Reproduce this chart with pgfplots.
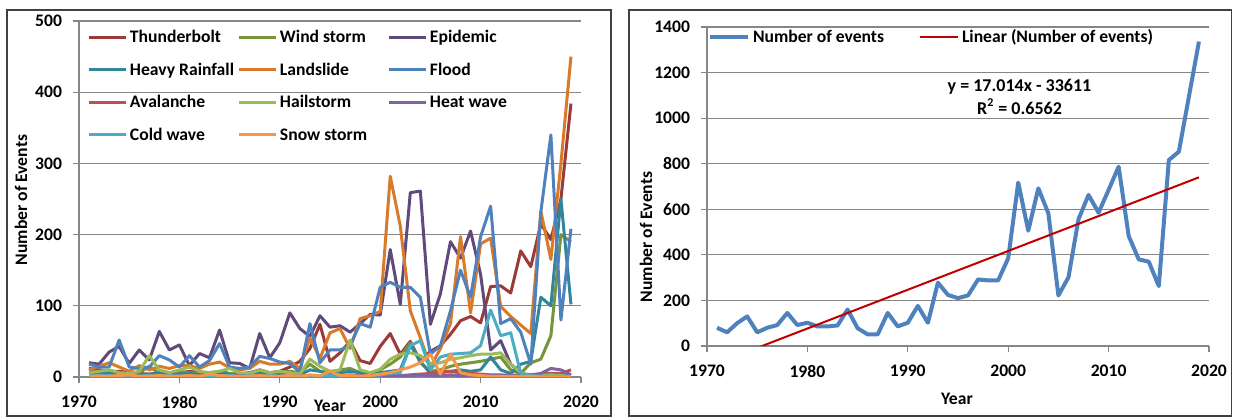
\documentclass[border=0pt]{standalone}
\usepackage{pgfplots}
\pgfplotsset{compat=1.18}
\usepackage{pgfplotstable}
\usepackage{fontspec}
\setmainfont{Carlito}
\definecolor{cThunder}{HTML}{9B3A37}
\definecolor{cWind}{HTML}{77933C}
\definecolor{cEpid}{HTML}{604A7B}
\definecolor{cHeavy}{HTML}{31859C}
\definecolor{cLand}{HTML}{D97A2B}
\definecolor{cFlood}{HTML}{4F81BD}
\definecolor{cAval}{HTML}{C0504D}
\definecolor{cHail}{HTML}{9BBB59}
\definecolor{cHeat}{HTML}{8064A2}
\definecolor{cCold}{HTML}{4BACC6}
\definecolor{cSnow}{HTML}{F79646}
\definecolor{cGrid}{HTML}{868686}
\definecolor{cFrame}{HTML}{404040}
\definecolor{cTrend}{HTML}{C00000}
\newcommand\ff{\bfseries\fontsize{8.8}{10}\selectfont}

\pgfplotstableread{
year thunder wind epid heavy land flood aval hail heat cold snow
1971 12 5 20 8 10 18 2 6 1 2 1
1972 10 6 18 6 15 14 1 8 1 1 1
1973 8 8 35 5 20 14 2 10 2 2 1
1974 8 5 43 6 14 52 1 6 1 1 2
1975 6 4 19 4 8 14 2 5 1 2 3
1976 5 6 38 3 16 12 1 8 2 1 1
1977 4 15 24 4 10 14 2 30 1 2 1
1978 6 5 64 5 15 30 1 10 1 1 2
1979 5 4 38 3 12 24 2 6 2 2 1
1980 5 8 45 4 16 14 1 10 1 1 1
1981 8 6 16 5 16 30 2 14 1 2 2
1982 6 5 33 3 12 14 1 8 1 1 1
1983 5 6 27 4 18 23 3 6 2 2 4
1984 6 8 66 8 21 47 2 8 1 1 2
1985 5 5 20 3 13 14 1 12 1 2 1
1986 4 4 19 2 10 12 2 6 1 1 1
1987 6 6 12 3 12 14 1 5 2 2 1
1988 10 8 61 5 22 29 2 10 1 1 2
1989 6 5 27 3 18 26 1 6 1 2 1
1990 8 6 48 4 18 21 2 8 2 1 1
1991 14 8 90 5 22 19 2 6 1 2 2
1992 22 6 68 3 12 7 1 4 1 1 1
1993 40 18 57 10 55 75 2 25 2 2 3
1994 74 8 86 8 26 20 2 15 1 1 2
1995 22 6 70 5 62 38 1 8 1 2 8
1996 34 10 72 6 68 38 2 10 2 1 2
1997 50 12 63 8 40 44 3 52 1 2 2
1998 23 6 75 6 82 75 2 10 2 1 1
1999 19 5 88 5 86 70 3 6 1 2 2
2000 43 10 87 6 92 126 2 11 2 3 4
2001 61 18 179 8 282 133 3 25 1 5 6
2002 32 28 102 10 212 126 2 32 2 6 10
2003 50 48 259 45 93 126 3 34 2 44 14
2004 22 20 261 22 55 112 4 30 3 51 20
2005 36 8 74 5 14 32 5 18 2 10 32
2006 44 10 117 6 40 44 8 20 2 28 4
2007 60 15 190 8 75 93 8 25 3 32 32
2008 79 18 167 10 197 150 6 27 2 33 6
2009 85 20 205 8 90 112 5 30 2 34 3
2010 76 22 144 10 187 197 4 32 2 44 2
2011 127 25 38 28 195 240 3 32 2 94 1
2012 128 28 51 10 99 75 3 34 2 58 1
2013 118 10 18 5 85 82 2 18 3 62 1
2014 177 5 5 18 73 63 2 6 2 5 1
2015 155 20 3 22 61 18 3 2 3 2 1
2016 215 25 3 112 233 232 4 2 5 1 0
2017 193 58 5 100 165 340 5 3 12 1 0
2018 250 200 4 250 300 80 5 2 10 1 0
2019 384 190 2 102 450 208 10 1 3 1 0
}\hazards

\pgfplotstableread{
year total
1971 80
1972 60
1973 100
1974 130
1975 60
1976 80
1977 92
1978 145
1979 92
1980 102
1981 86
1982 86
1983 90
1984 160
1985 78
1986 51
1987 51
1988 145
1989 86
1990 102
1991 176
1992 102
1993 278
1994 224
1995 210
1996 222
1997 292
1998 288
1999 288
2000 385
2001 717
2002 506
2003 692
2004 582
2005 222
2006 301
2007 556
2008 663
2009 585
2010 685
2011 787
2012 483
2013 380
2014 370
2015 263
2016 816
2017 853
2018 1095
2019 1336
}\totals

\pgfplotsset{
  chartbase/.style={
    scale only axis,
    anchor=south west,
    xmin=1970, xmax=2020, ymin=0,
    xtick={1970,1980,1990,2000,2010,2020},
    xticklabels={1970,1980,1990,2000,2010,2020},
    axis x line*=bottom, axis y line*=left,
    ymajorgrids,
    grid style={cGrid, line width=0.6pt},
    axis line style={cGrid, line width=0.6pt},
    tick style={cGrid, line width=0.6pt},
    tick align=outside, major tick length=3pt,
    tick label style={font=\ff, black},
    xticklabel style={yshift=-3pt},
    yticklabel style={xshift=-2pt},
    label style={font=\ff},
    xlabel={Year},
    legend style={draw=none, fill=none, inner sep=0pt, outer sep=0pt,
      font=\ff, column sep=0pt, row sep=10.6pt,
      nodes={inner sep=0pt, text height=5.7pt, text depth=0pt}},
    legend cell align=left,
    line join=round,
  },
}

\begin{document}
\begin{tikzpicture}[x=1pt,y=1pt]
\useasboundingbox (0,0) rectangle (616.5,208.5);
\draw[cFrame, line width=0.8pt] (3.5,0.4) rectangle (305.5,203.5);
\draw[cFrame, line width=0.8pt] (314.5,0.4) rectangle (615.8,203.5);

\begin{axis}[chartbase,
  at={(39.5pt,20pt)}, width=251pt, height=178pt,
  ymax=500, ytick={0,100,200,300,400,500},
  yticklabels={0,100,200,300,400,500},
  xlabel style={at={(axis description cs:0.5,-0.0815)}, anchor=center},
  ylabel={Number of Events},
  ylabel style={at={(axis description cs:-0.1155,0.497)}, anchor=center, rotate=0},
  legend columns=3,
  legend style={at={(axis description cs:0.0179,0.971)}, anchor=north west},
  legend image code/.code={\draw[#1] (0pt,0pt) -- (18.5pt,0pt);},
  every axis plot/.append style={line width=1.5pt},
]
\addplot[cThunder] table[x=year,y=thunder]{\hazards};
\addlegendentry{\makebox[55pt][l]{\hspace{1pt}Thunderbolt}}
\addplot[cWind] table[x=year,y=wind]{\hazards};
\addlegendentry{\makebox[55pt][l]{\hspace{1pt}Wind storm}}
\addplot[cEpid] table[x=year,y=epid]{\hazards};
\addlegendentry{\makebox[55pt][l]{\hspace{1pt}Epidemic}}
\addplot[cHeavy] table[x=year,y=heavy]{\hazards};
\addlegendentry{\makebox[55pt][l]{\hspace{1pt}Heavy Rainfall}}
\addplot[cLand] table[x=year,y=land]{\hazards};
\addlegendentry{\makebox[55pt][l]{\hspace{1pt}Landslide}}
\addplot[cFlood] table[x=year,y=flood]{\hazards};
\addlegendentry{\makebox[55pt][l]{\hspace{1pt}Flood}}
\addplot[cAval] table[x=year,y=aval]{\hazards};
\addlegendentry{\makebox[55pt][l]{\hspace{1pt}Avalanche}}
\addplot[cHail] table[x=year,y=hail]{\hazards};
\addlegendentry{\makebox[55pt][l]{\hspace{1pt}Hailstorm}}
\addplot[cHeat] table[x=year,y=heat]{\hazards};
\addlegendentry{\makebox[55pt][l]{\hspace{1pt}Heat wave}}
\addplot[cCold] table[x=year,y=cold]{\hazards};
\addlegendentry{\makebox[55pt][l]{\hspace{1pt}Cold wave}}
\addplot[cSnow] table[x=year,y=snow]{\hazards};
\addlegendentry{\makebox[55pt][l]{\hspace{1pt}Snow storm}}
\end{axis}

\begin{axis}[chartbase,
  at={(353.5pt,35.5pt)}, width=251pt, height=159.5pt,
  ymax=1400, ytick={0,200,400,600,800,1000,1200,1400},
  yticklabels={0,200,400,600,800,1000,1200,1400},
  xlabel style={at={(axis description cs:0.498,-0.166)}, anchor=center},
  ylabel={Number of Events},
  ylabel style={at={(axis description cs:-0.1215,0.342)}, anchor=center},
  legend columns=2,
  legend style={at={(axis description cs:0.002,0.9865)}, anchor=north west},
  legend image code/.code={\draw[#1] (0pt,0pt) -- (19pt,0pt);},
]
\addplot[cFlood, line width=2pt] table[x=year,y=total]{\totals};
\addlegendentry{\makebox[84.5pt][l]{\hspace{1.5pt}Number of events}}
\addplot[cTrend, line width=1pt] coordinates {(1971,-76.4) (2019,740.3)};
\addlegendentry{\makebox[84.5pt][l]{\hspace{1.5pt}Linear (Number of events)}}
\node[font=\bfseries\fontsize{9}{11.5}\selectfont, align=center, anchor=center]
  at (rel axis cs:0.6225,0.782) {y = 17.014x - 33611\\R\textsuperscript{2} = 0.6562};
\end{axis}
\end{tikzpicture}
\end{document}
